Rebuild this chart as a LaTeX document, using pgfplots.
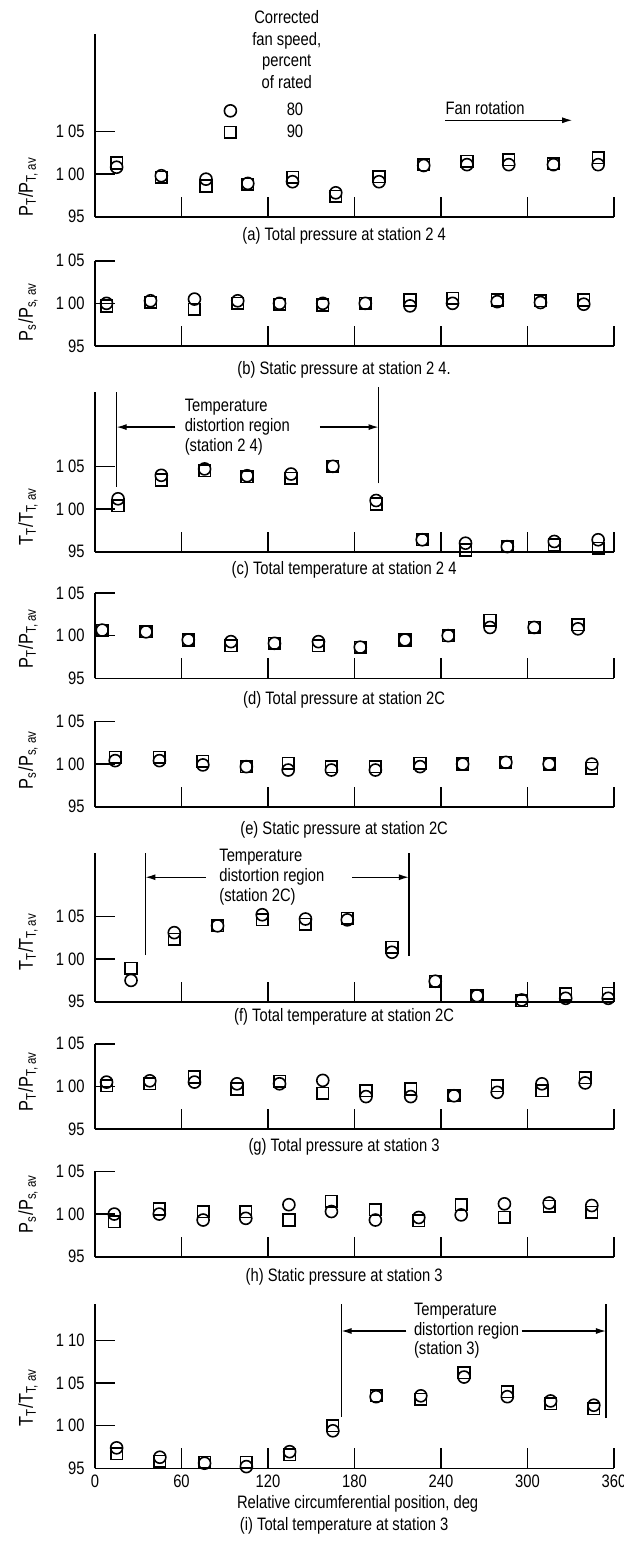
\documentclass[border=0pt]{standalone}
\usepackage{fontspec}
\setmainfont{Liberation Sans}[FakeStretch=0.82]
\usepackage{pgfplots}
\pgfplotsset{compat=1.18}
\usepackage{pgfplotstable}
\usetikzlibrary{arrows.meta}

\newcommand\tickfont{\fontsize{9}{10}\selectfont}
\newcommand\labfont{\fontsize{10}{11}\selectfont}
\newcommand\capfont{\fontsize{9}{10}\selectfont}
\newcommand\annfont{\fontsize{9}{9.8}\selectfont}
\newcommand\hdrfont{\fontsize{9}{10.8}\selectfont}

% x = relative circumferential position (deg); c = 80 percent speed (circles); s = 90 percent speed (squares)
\pgfplotstableread{
x c s
15 1.008 1.013
46 0.998 0.996
77 0.994 0.986
106 0.989 0.988
137 0.991 0.996
167 0.978 0.974
197 0.991 0.997
228 1.010 1.011
258 1.011 1.015
287 1.011 1.017
318 1.011 1.012
349 1.011 1.019
}\dataA
\pgfplotstableread{
x c s
8 1.000 0.997
38.5 1.003 1.001
69 1.005 0.993
99 1.003 1.000
128 1.000 0.999
158 1.000 0.998
187.5 1.000 1.000
218.5 0.997 1.004
248 1.000 1.006
279 1.002 1.004
309 1.001 1.003
339 0.999 1.004
}\dataB
\pgfplotstableread{
x c s
16 1.012 1.004
46 1.0395 1.034
76 1.047 1.045
105.5 1.039 1.038
136 1.041 1.036
165 1.050 1.050
195 1.010 1.006
227 0.964 0.964
257 0.960 0.952
286 0.956 0.956
318.6 0.962 0.958
349 0.964 0.954
}\dataC
\pgfplotstableread{
x c s
5 1.0065 1.0065
35.4 1.0045 1.0045
64.7 0.995 0.995
94.3 0.993 0.988
124.5 0.991 0.991
155 0.993 0.988
184 0.9865 0.9865
215 0.995 0.995
245 1.000 1.000
274 1.0096 1.018
304.6 1.0096 1.0096
335 1.008 1.013
}\dataD
\pgfplotstableread{
x c s
14 1.004 1.008
44.7 1.004 1.008
74.8 0.999 1.003
105 0.997 0.997
134 0.993 1.001
164 0.993 0.997
194.5 0.993 0.997
225.5 0.997 1.001
255 1.000 1.000
285 1.002 1.002
315 1.000 1.000
344.6 1.000 0.995
}\dataE
\pgfplotstableread{
x c s
25 0.975 0.989
55 1.031 1.023
85 1.039 1.039
116 1.052 1.046
146 1.047 1.041
175 1.046 1.048
206 1.008 1.014
236 0.974 0.974
265 0.957 0.957
296 0.952 0.951
326.5 0.954 0.959
356 0.954 0.960
}\dataF
\pgfplotstableread{
x c s
8 1.005 1.001
38 1.0065 1.003
69 1.005 1.011
98.5 1.003 0.997
128 1.003 1.006
158 1.007 0.992
188 0.988 0.995
219 0.988 0.997
249 0.989 0.989
279 0.993 1.001
310 1.003 0.995
340 1.004 1.010
}\dataG
\pgfplotstableread{
x c s
13.4 1.000 0.991
44.6 1.000 1.006
75 0.993 1.003
104.6 0.995 1.003
134.5 1.011 0.993
164 1.003 1.015
194.5 0.993 1.005
224.6 0.996 0.992
254 0.999 1.011
284 1.012 0.996
315 1.013 1.009
344.6 1.010 1.002
}\dataH
\pgfplotstableread{
x c s
15 0.974 0.967
45 0.963 0.958
76 0.956 0.957
105 0.952 0.957
135 0.9695 0.966
165 0.994 1.000
195 1.034 1.035
226 1.035 1.031
256 1.057 1.062
286 1.034 1.040
316 1.029 1.026
346 1.024 1.020
}\dataI

\tikzset{
  ann/.style={line width=0.8pt},
  arr/.style={line width=0.6pt, -{Latex[length=5pt,width=3pt]}},
}
\pgfplotsset{
  panel/.style={
    scale only axis, width=259.5pt,
    xmin=0, xmax=360, ymin=0.95,
    axis x line*=bottom, axis y line*=left,
    axis line style={line width=0.8pt},
    tick align=inside, major tick length=10pt,
    xtick={0,60,...,360}, xticklabels={},
    ytick={0.95,1.00,1.05}, yticklabels={95,1 00,1 05},
    every tick/.style={black, line width=0.8pt},
    tick label style={font=\tickfont},
    yticklabel style={inner xsep=5pt},
    clip=false,
    ylabel style={at={(axis description cs:-0.129,#1)}, anchor=center, font=\labfont},
  },
  c80/.style={only marks, mark=o, mark size=3pt, mark options={black, line width=0.8pt, solid}},
  s90/.style={only marks, mark=square, mark size=2.9pt, mark options={black, line width=0.8pt, solid}},
  legimg/.style={legend image code/.code={\draw[##1, mark repeat=2, mark phase=1] plot coordinates {(0pt,0pt) (27pt,0pt)}; \path (-3.5pt,0pt) (27pt,0pt);}},
}

\begin{document}
\begin{tikzpicture}
\useasboundingbox (0,0) rectangle (312pt,-770.5pt);

% (a)
\begin{axis}[panel=0.164, at={(47.5pt,-108.35pt)}, anchor=south west,
  height=91.3pt, ymax=1.164,
  ylabel={P\textsubscript{T}/P\textsubscript{T, av}},
  legend style={draw=none, fill=none, at={(axis cs:88.5,1.086)}, anchor=north west,
    inner sep=0pt, row sep=1pt, nodes={inner sep=1pt, font=\tickfont}},
  legend cell align=left]
\addplot[c80, legimg] table[x=x, y=c] {\dataA};
\addplot[s90, legimg] table[x=x, y=s] {\dataA};
\legend{80,90}
\node[align=center, font=\hdrfont] at (axis cs:133,1.146) {Corrected\\fan speed,\\percent\\of rated};
\node[anchor=west, inner sep=0pt, font=\annfont] at (axis cs:243,1.077) {Fan rotation};
\draw[arr] (axis cs:243,1.063) -- (axis cs:331,1.063);
\node[font=\capfont, yshift=-9.5pt] at (rel axis cs:0.48,0) {(a) Total pressure at station 2 4};
\end{axis}

% (b)
\begin{axis}[panel=0.4, at={(47.5pt,-173pt)}, anchor=south west,
  height=42.65pt, ymax=1.05,
  ylabel={P\textsubscript{s}/P\textsubscript{s, av}}]
\addplot[c80] table[x=x, y=c] {\dataB};
\addplot[s90] table[x=x, y=s] {\dataB};
\node[font=\capfont, yshift=-12pt] at (rel axis cs:0.48,0) {(b) Static pressure at station 2 4.};
\end{axis}

% (c)
\begin{axis}[panel=0.22, at={(47.5pt,-275.85pt)}, anchor=south west,
  height=79.8pt, ymax=1.137,
  ylabel={T\textsubscript{T}/T\textsubscript{T, av}}]
\addplot[c80] table[x=x, y=c] {\dataC};
\addplot[s90] table[x=x, y=s] {\dataC};
\draw[ann] (axis cs:15,1.026) -- (axis cs:15,1.137);
\draw[ann] (axis cs:196.7,1.030) -- (axis cs:196.7,1.143);
\draw[arr] (axis cs:55.8,1.096) -- (axis cs:15,1.096);
\draw[arr] (axis cs:156,1.096) -- (axis cs:196.7,1.096);
\node[anchor=west, align=left, inner sep=0pt, font=\annfont] at (axis cs:62,1.096) {Temperature\\distortion region\\(station 2 4)};
\node[font=\capfont, yshift=-9.2pt] at (rel axis cs:0.48,0) {(c) Total temperature at station 2 4};
\end{axis}

% (d)
\begin{axis}[panel=0.47, at={(47.5pt,-339.15pt)}, anchor=south west,
  height=42.65pt, ymax=1.05,
  ylabel={P\textsubscript{T}/P\textsubscript{T, av}}]
\addplot[c80] table[x=x, y=c] {\dataD};
\addplot[s90] table[x=x, y=s] {\dataD};
\node[font=\capfont, yshift=-10.8pt] at (rel axis cs:0.48,0) {(d) Total pressure at station 2C};
\end{axis}

% (e)
\begin{axis}[panel=0.55, at={(47.5pt,-403.35pt)}, anchor=south west,
  height=42.65pt, ymax=1.05,
  ylabel={P\textsubscript{s}/P\textsubscript{s, av}}]
\addplot[c80] table[x=x, y=c] {\dataE};
\addplot[s90] table[x=x, y=s] {\dataE};
\node[font=\capfont, yshift=-11.7pt] at (rel axis cs:0.48,0) {(e) Static pressure at station 2C};
\end{axis}

% (f)
\begin{axis}[panel=0.4, at={(47.5pt,-500.85pt)}, anchor=south west,
  height=74.6pt, ymax=1.125,
  ylabel={T\textsubscript{T}/T\textsubscript{T, av}}]
\addplot[c80] table[x=x, y=c] {\dataF};
\addplot[s90] table[x=x, y=s] {\dataF};
\draw[ann] (axis cs:35,1.0045) -- (axis cs:35,1.125);
\draw[ann] (axis cs:217.7,1.004) -- (axis cs:217.7,1.125);
\draw[arr] (axis cs:76.7,1.096) -- (axis cs:35,1.096);
\draw[arr] (axis cs:178.6,1.096) -- (axis cs:217.7,1.096);
\node[anchor=west, align=left, inner sep=0pt, font=\annfont] at (axis cs:86,1.096) {Temperature\\distortion region\\(station 2C)};
\node[font=\capfont, yshift=-7.8pt] at (rel axis cs:0.48,0) {(f) Total temperature at station 2C};
\end{axis}

% (g)
\begin{axis}[panel=0.56, at={(47.5pt,-564.5pt)}, anchor=south west,
  height=42.65pt, ymax=1.05,
  ylabel={P\textsubscript{T}/P\textsubscript{T, av}}]
\addplot[c80] table[x=x, y=c] {\dataG};
\addplot[s90] table[x=x, y=s] {\dataG};
\node[font=\capfont, yshift=-8.8pt] at (rel axis cs:0.48,0) {(g) Total pressure at station 3};
\end{axis}

% (h)
\begin{axis}[panel=0.62, at={(47.5pt,-628.35pt)}, anchor=south west,
  height=42.65pt, ymax=1.05,
  ylabel={P\textsubscript{s}/P\textsubscript{s, av}}]
\addplot[c80] table[x=x, y=c] {\dataH};
\addplot[s90] table[x=x, y=s] {\dataH};
\node[font=\capfont, yshift=-10pt] at (rel axis cs:0.48,0) {(h) Static pressure at station 3};
\end{axis}

% (i)
\begin{axis}[panel=0.43, at={(47.5pt,-734.15pt)}, anchor=south west,
  height=82.3pt, ymax=1.143,
  ytick={0.95,1.00,1.05,1.10}, yticklabels={95,1 00,1 05,1 10},
  xticklabels={0,60,120,180,240,300,360},
  xlabel={Relative circumferential position, deg},
  xlabel style={at={(axis description cs:0.506,0)}, yshift=-18pt, anchor=center, font=\tickfont},
  ylabel={T\textsubscript{T}/T\textsubscript{T, av}}]
\addplot[c80] table[x=x, y=c] {\dataI};
\addplot[s90] table[x=x, y=s] {\dataI};
\draw[ann] (axis cs:171,1.0105) -- (axis cs:171,1.143);
\draw[ann] (axis cs:354.4,1.009) -- (axis cs:354.4,1.143);
\draw[arr] (axis cs:216,1.111) -- (axis cs:171,1.111);
\draw[arr] (axis cs:296,1.111) -- (axis cs:354.4,1.111);
\node[anchor=west, align=left, inner sep=0pt, font=\annfont] at (axis cs:221,1.111) {Temperature\\distortion region\\(station 3)};
\node[font=\capfont, yshift=-29pt] at (rel axis cs:0.48,0) {(i) Total temperature at station 3};
\end{axis}
\end{tikzpicture}
\end{document}
